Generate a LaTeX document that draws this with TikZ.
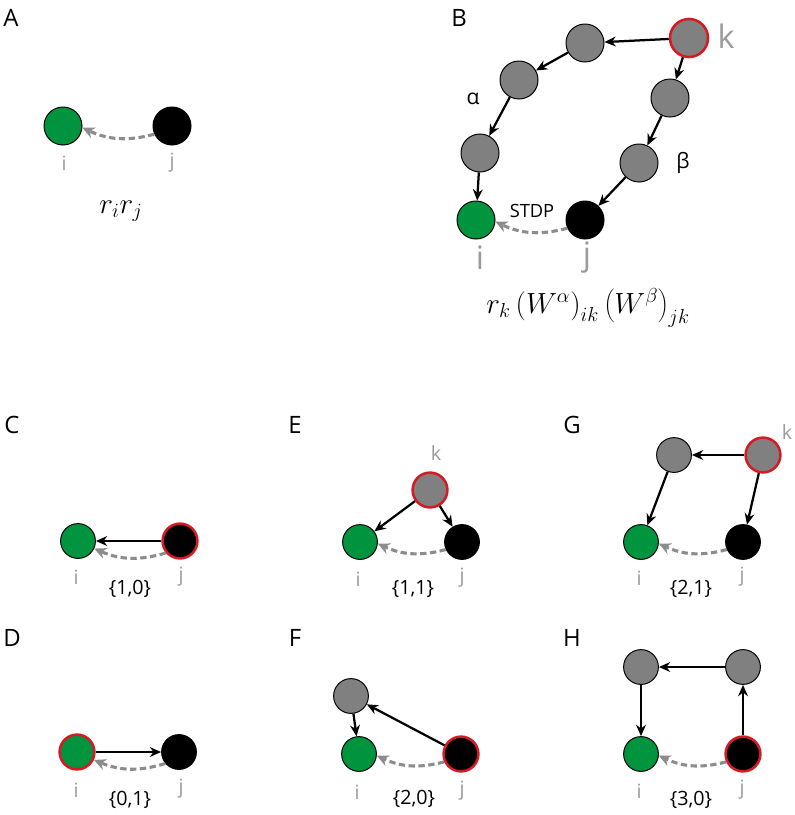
\documentclass[tikz,border=0pt]{standalone}
\usepackage{fontspec}
\setmainfont{Open Sans}
\usetikzlibrary{arrows.meta, positioning}
\definecolor{nGreen}{RGB}{0,148,62}
\definecolor{nGray}{RGB}{128,128,128}
\definecolor{nRed}{RGB}{215,25,35}
\definecolor{lblGray}{RGB}{155,155,155}
\definecolor{arrGray}{RGB}{140,140,140}

\begin{document}
\begin{tikzpicture}[x=0.025cm, y=-0.025cm]
    \tikzset{panel/.style = {font=\fontsize{17}{20}\selectfont}}
    \tikzset{nrn/.style = {circle, draw=black, line width=0.7pt, inner sep=0pt, minimum size=0.95cm}}
    \tikzset{nrnS/.style = {nrn, minimum size=0.87cm}}
    \tikzset{src/.style = {draw=nRed, line width=1.8pt}}
    \tikzset{lbl/.style = {text=lblGray, font=\fontsize{14}{16}\selectfont}}
    \tikzset{lblL/.style = {text=lblGray, font=\fontsize{23}{25}\selectfont}}
    \tikzset{motif/.style = {font=\fontsize{14}{16}\selectfont}}
    \tikzset{syn/.style = {-{Stealth[length=8pt, width=7pt]}, line width=1.6pt}}
    \tikzset{stdp/.style = {-{Stealth[length=8.5pt, width=8pt]}, line width=2.2pt, draw=arrGray, dash pattern=on 4.5pt off 2.5pt}}
    \useasboundingbox (0,0) rectangle (795,815);

    % A
    \node[panel] (pA) at (11,18) {A};
    \node[nrn, fill=nGreen] (Ai) at (63,126) {};
    \node[nrn, fill=black] (Aj) at (172,126) {};
    \node[lbl] (Ail) at (64,163) {i};
    \node[lbl] (Ajl) at (172,163) {j};
    \node[font=\fontsize{22}{26}\selectfont] (Af) at (121,211) {$r_i r_j$};
    \draw[stdp] (Aj.205) to[bend left=20] (Ai.-5);

    % B
    \node[panel] (pB) at (459,18) {B};
    \node[nrn, fill=nGray, src] (Bk) at (689,38) {};
    \node[nrn, fill=nGray] (Ba3) at (585,43) {};
    \node[nrn, fill=nGray] (Ba2) at (519,80) {};
    \node[nrn, fill=nGray] (Ba1) at (480,153) {};
    \node[nrn, fill=nGreen] (Bi) at (476,220) {};
    \node[nrn, fill=nGray] (Bb2) at (670,98) {};
    \node[nrn, fill=nGray] (Bb1) at (639,163) {};
    \node[nrn, fill=black] (Bj) at (585,220) {};
    \node[lblL] (Bkl) at (726,36) {k};
    \node[font=\fontsize{15}{17}\selectfont] (Bal) at (473,99) {α};
    \node[font=\fontsize{15}{17}\selectfont] (Bbl) at (683,163) {β};
    \node[font=\fontsize{13}{15}\selectfont] (Bst) at (532,211) {STDP};
    \node[lblL] (Bil) at (480,258) {i};
    \node[lblL] (Bjl) at (587,258) {j};
    \node[font=\fontsize{21}{25}\selectfont] (Bf) at (588,308) {$r_k\left(W^{\alpha}\right)_{ik}\left(W^{\beta}\right)_{jk}$};
    \draw[syn] (Bk) -- (Ba3);
    \draw[syn] (Ba3) -- (Ba2);
    \draw[syn] (Ba2) -- (Ba1);
    \draw[syn] (Ba1) -- (Bi);
    \draw[syn] (Bk) -- (Bb2);
    \draw[syn] (Bb2) -- (Bb1);
    \draw[syn] (Bb1) -- (Bj);
    \draw[stdp] (Bj.205) to[bend left=20] (Bi.-5);

    % C
    \node[panel] (pC) at (12,425) {C};
    \node[nrnS, fill=nGreen] (Ci) at (78,541) {};
    \node[nrnS, fill=black, src] (Cj) at (180,541) {};
    \node[lbl] (Cil) at (76,577) {i};
    \node[lbl] (Cjl) at (181,577) {j};
    \node[motif] (Cm) at (130,589) {\{1,0\}};
    \draw[syn] (Cj) -- (Ci);
    \draw[stdp] (Cj.220) to[bend left=20] (Ci.-25);

    % D
    \node[panel] (pD) at (12,638) {D};
    \node[nrnS, fill=nGreen, src] (Di) at (77,752) {};
    \node[nrnS, fill=black] (Dj) at (179,752) {};
    \node[lbl] (Dil) at (76,790) {i};
    \node[lbl] (Djl) at (181,789) {j};
    \node[motif] (Dm) at (130,800) {\{0,1\}};
    \draw[syn] (Di) -- (Dj);
    \draw[stdp] (Dj.220) to[bend left=20] (Di.-25);

    % E
    \node[panel] (pE) at (295,425) {E};
    \node[nrnS, fill=nGray, src] (Ek) at (430,490) {};
    \node[nrnS, fill=nGreen] (Ei) at (360,542) {};
    \node[nrnS, fill=black] (Ej) at (462,542) {};
    \node[lbl] (Ekl) at (436,453) {k};
    \node[lbl] (Eil) at (358,579) {i};
    \node[lbl] (Ejl) at (462,578) {j};
    \node[motif] (Em) at (413,589) {\{1,1\}};
    \draw[syn] (Ek) -- (Ei);
    \draw[syn] (Ek) -- (Ej);
    \draw[stdp] (Ej.205) to[bend left=20] (Ei.-5);

    % F
    \node[panel] (pF) at (295,638) {F};
    \node[nrnS, fill=nGray] (Fa) at (351,696) {};
    \node[nrnS, fill=nGreen] (Fi) at (359,754) {};
    \node[nrnS, fill=black, src] (Fj) at (461,754) {};
    \node[lbl] (Fil) at (357,792) {i};
    \node[lbl] (Fjl) at (462,791) {j};
    \node[motif] (Fm) at (414,799) {\{2,0\}};
    \draw[syn] (Fj) -- (Fa);
    \draw[syn] (Fa) -- (Fi);
    \draw[stdp] (Fj.205) to[bend left=20] (Fi.-5);

    % G
    \node[panel] (pG) at (572,425) {G};
    \node[nrnS, fill=nGray] (Ga) at (674,455) {};
    \node[nrnS, fill=nGray, src] (Gk) at (763,455) {};
    \node[nrnS, fill=nGreen] (Gi) at (641,542) {};
    \node[nrnS, fill=black] (Gj) at (743,542) {};
    \node[lbl] (Gkl) at (787,432) {k};
    \node[lbl] (Gil) at (639,578) {i};
    \node[lbl] (Gjl) at (742,577) {j};
    \node[motif] (Gm) at (691,589) {\{2,1\}};
    \draw[syn] (Gk) -- (Ga);
    \draw[syn] (Ga) -- (Gi);
    \draw[syn] (Gk) -- (Gj);
    \draw[stdp] (Gj.205) to[bend left=20] (Gi.-5);

    % H
    \node[panel] (pH) at (572,638) {H};
    \node[nrnS, fill=nGray] (Ha) at (641,667) {};
    \node[nrnS, fill=nGray] (Hb) at (743,667) {};
    \node[nrnS, fill=nGreen] (Hi) at (641,754) {};
    \node[nrnS, fill=black, src] (Hj) at (743,754) {};
    \node[lbl] (Hil) at (639,791) {i};
    \node[lbl] (Hjl) at (742,790) {j};
    \node[motif] (Hm) at (691,800) {\{3,0\}};
    \draw[syn] (Hj) -- (Hb);
    \draw[syn] (Hb) -- (Ha);
    \draw[syn] (Ha) -- (Hi);
    \draw[stdp] (Hj.205) to[bend left=20] (Hi.-5);
\end{tikzpicture}
\end{document}
